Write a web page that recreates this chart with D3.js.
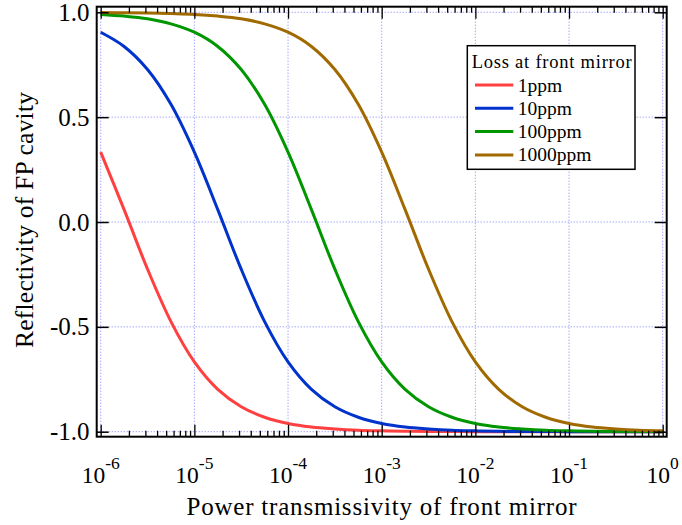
<!DOCTYPE html>
<html>
<head>
<meta charset="utf-8">
<script src="https://cdn.jsdelivr.net/npm/d3@7"></script>
<style>
  body { margin: 0; background: #fff; }
</style>
</head>
<body>
<div id="chart"></div>
<script>
// exponents of the transmissivity (quarter decades, 1e-6 .. 1e0)
var exps = [-6, -5.75, -5.5, -5.25, -5, -4.75, -4.5, -4.25, -4, -3.75, -3.5, -3.25, -3,
            -2.75, -2.5, -2.25, -2, -1.75, -1.5, -1.25, -1, -0.75, -0.5, -0.25, 0];

// reflectivity
var loss1 = [0.333, 0.059, -0.225, -0.475, -0.667, -0.798, -0.881, -0.931, -0.961, -0.978, -0.987, -0.993, -0.996,
             -0.998, -0.999, -0.999, -1.0, -1.0, -1.0, -1.0, -1.0, -1.0, -1.0, -1.0, -1.0];
var loss10 = [0.905, 0.837, 0.727, 0.561, 0.333, 0.059, -0.225, -0.475, -0.667, -0.798, -0.881, -0.931, -0.961,
              -0.978, -0.987, -0.993, -0.996, -0.998, -0.999, -0.999, -1.0, -1.0, -1.0, -1.0, -1.0];
var loss100 = [0.990, 0.982, 0.969, 0.945, 0.905, 0.837, 0.727, 0.561, 0.333, 0.059, -0.225, -0.475, -0.667,
               -0.798, -0.881, -0.931, -0.961, -0.978, -0.987, -0.993, -0.996, -0.998, -0.999, -0.999, -1.0];
var loss1000 = [0.999, 0.998, 0.997, 0.994, 0.990, 0.982, 0.969, 0.945, 0.905, 0.837, 0.727, 0.561, 0.333,
                0.059, -0.225, -0.475, -0.667, -0.798, -0.881, -0.931, -0.961, -0.978, -0.987, -0.993, -0.996];

var seriesNames = ["1ppm", "10ppm", "100ppm", "1000ppm"];
var seriesColors = ["#ff4040", "#0033cc", "#009600", "#a06a00"];
var seriesValues = [loss1, loss10, loss100, loss1000];

var xDecades = [-6, -5, -4, -3, -2, -1, 0];
var yTicks = [-1.0, -0.5, 0.0, 0.5, 1.0];

var W = 682, H = 525;
var frame = {left: 96.7, right: 666.7, top: 6.7, bottom: 436.7};
var serif = "'Liberation Serif', 'Times New Roman', serif";

var svg = d3.select("#chart").append("svg")
    .attr("width", W)
    .attr("height", H)
    .style("font-family", serif);

var x = d3.scaleLog().domain([1e-6, 1]).range([100.7, 662.7]);
var y = d3.scaleLinear().domain([-1, 1]).range([431.7, 12.3]);

// grid
var grid = svg.append("g")
    .attr("stroke", "#7f7fff")
    .attr("stroke-width", 1)
    .attr("stroke-dasharray", "1,2");
grid.selectAll(".gx")
  .data(xDecades)
  .enter().append("line")
    .attr("x1", d => x(Math.pow(10, d))).attr("x2", d => x(Math.pow(10, d)))
    .attr("y1", frame.top).attr("y2", frame.bottom);
grid.selectAll(".gy")
  .data(yTicks)
  .enter().append("line")
    .attr("x1", frame.left).attr("x2", frame.right)
    .attr("y1", d => y(d)).attr("y2", d => y(d));

// curves
var line = d3.line()
    .x((d, i) => x(Math.pow(10, exps[i])))
    .y(d => y(d))
    .curve(d3.curveCatmullRom.alpha(0.5));

svg.append("g").selectAll("path")
  .data(seriesValues)
  .enter().append("path")
    .attr("d", d => line(d))
    .attr("fill", "none")
    .attr("stroke", (d, i) => seriesColors[i])
    .attr("stroke-width", 3);

// axes: ticks point inward
var majors = xDecades.map(d => Math.pow(10, d));
var minors = [];
xDecades.slice(0, -1).forEach(function(d) {
  for (var m = 2; m <= 9; m++) minors.push(m * Math.pow(10, d));
});

function addX(gen, yPos) {
  var g = svg.append("g").attr("transform", "translate(0," + yPos + ")");
  g.call(gen(x).tickValues(majors).tickSize(-12).tickFormat(""));
  g.append("g").call(gen(x).tickValues(minors).tickSize(-6).tickFormat(""));
  g.selectAll(".domain").remove();
  g.selectAll("line").attr("stroke", "#000").attr("stroke-width", 1.3);
}
addX(d3.axisBottom, frame.bottom);
addX(d3.axisTop, frame.top);

function addY(gen, xPos) {
  var g = svg.append("g").attr("transform", "translate(" + xPos + ",0)");
  g.call(gen(y).tickValues(yTicks).tickSize(-12).tickFormat(""));
  g.selectAll(".domain").remove();
  g.selectAll("line").attr("stroke", "#000").attr("stroke-width", 1.5);
}
addY(d3.axisLeft, frame.left);
addY(d3.axisRight, frame.right);

svg.append("rect")
    .attr("x", frame.left).attr("y", frame.top)
    .attr("width", frame.right - frame.left)
    .attr("height", frame.bottom - frame.top)
    .attr("fill", "none")
    .attr("stroke", "#000")
    .attr("stroke-width", 2);

// tick labels
svg.append("g").selectAll("text")
  .data(yTicks)
  .enter().append("text")
    .attr("x", 89.5)
    .attr("y", d => y(d) + 8.5)
    .attr("text-anchor", "end")
    .style("font-family", serif)
    .style("font-size", "25px")
    .text(d => d.toFixed(1));

var xl = svg.append("g").selectAll("text")
  .data(xDecades)
  .enter().append("text")
    .attr("x", d => x(Math.pow(10, d)))
    .attr("y", 483.3)
    .attr("text-anchor", "middle")
    .style("font-family", serif)
    .style("font-size", "23.5px");
xl.append("tspan").text("10");
xl.append("tspan")
    .attr("dy", -14)
    .style("font-size", "17.5px")
    .text(d => d === 0 ? "0" : "-" + (-d));

// axis titles
svg.append("text")
    .attr("x", 381.5)
    .attr("y", 515)
    .attr("text-anchor", "middle")
    .attr("textLength", 390)
    .style("font-family", serif)
    .style("font-size", "25px")
    .text("Power transmissivity of front mirror");

svg.append("text")
    .attr("transform", "translate(33,220) rotate(-90)")
    .attr("text-anchor", "middle")
    .attr("textLength", 256)
    .style("font-family", serif)
    .style("font-size", "25.5px")
    .text("Reflectivity of FP cavity");

// legend
var lg = svg.append("g");
lg.append("rect")
    .attr("x", 467.3).attr("y", 45.7)
    .attr("width", 167.7).attr("height", 123.6)
    .attr("fill", "#fff")
    .attr("stroke", "#000")
    .attr("stroke-width", 1.5);
lg.append("text")
    .attr("x", 471.7).attr("y", 68.3)
    .attr("textLength", 160)
    .style("font-family", serif)
    .style("font-size", "18.5px")
    .text("Loss at front mirror");
var items = lg.selectAll(".item")
  .data(seriesNames)
  .enter().append("g")
    .attr("transform", (d, i) => "translate(0," + (85 + i * 23.3) + ")");
items.append("line")
    .attr("x1", 475).attr("x2", 513.3)
    .attr("stroke", (d, i) => seriesColors[i])
    .attr("stroke-width", 3);
items.append("text")
    .attr("x", 517.7).attr("y", 6.5)
    .style("font-family", serif)
    .style("font-size", "19.5px")
    .text(d => d);
</script>
</body>
</html>
